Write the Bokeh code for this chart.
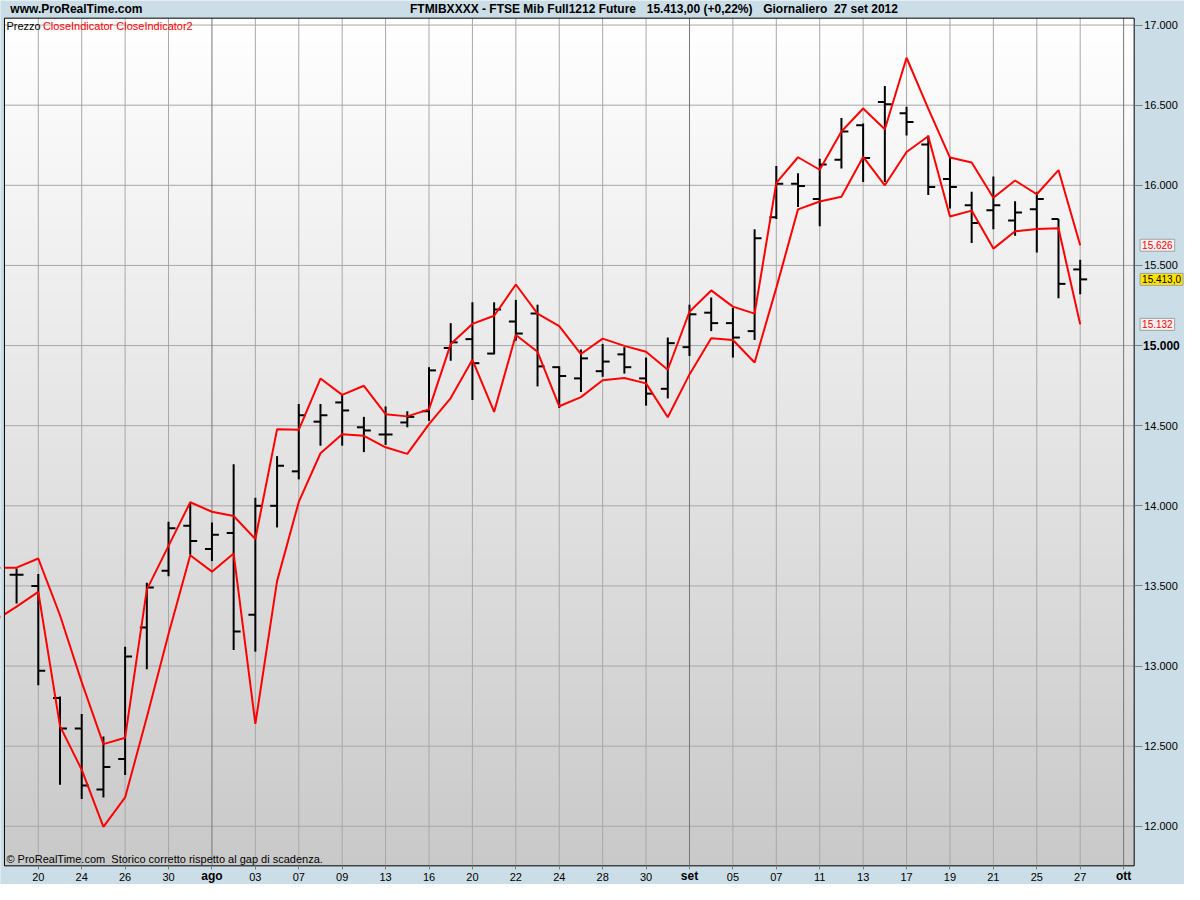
import numpy as np
from bokeh.plotting import figure
from bokeh.models import Range1d, FixedTicker, Label, LinearAxis, ColumnDataSource
from bokeh.embed import file_html
from bokeh.resources import INLINE

# ---------------- data ----------------
dates = ["19/07", "20/07", "23/07", "24/07", "25/07", "26/07", "27/07", "30/07", "31/07",
         "01/08", "02/08", "03/08", "06/08", "07/08", "08/08", "09/08", "10/08", "13/08",
         "14/08", "16/08", "17/08", "20/08", "21/08", "22/08", "23/08", "24/08", "27/08",
         "28/08", "29/08", "30/08", "31/08", "03/09", "04/09", "05/09", "06/09", "07/09",
         "10/09", "11/09", "12/09", "13/09", "14/09", "17/09", "18/09", "19/09", "20/09",
         "21/09", "24/09", "25/09", "26/09", "27/09"]

opens = [13.57, 13.50, 12.80, 12.61, 12.23, 12.42, 13.24, 13.595, 13.875,
         13.73, 13.83, 13.32, 14.00, 14.215, 14.525, 14.645, 14.49, 14.445,
         14.52, 14.59, 14.985, 15.04, 14.95, 15.15, 15.20, 14.865, 14.795,
         14.84, 14.945, 14.795, 14.73, 14.99, 15.205, 15.14, 15.09, 15.80,
         16.01, 15.915, 16.16, 16.375, 16.52, 16.45, 16.255, 16.04, 15.875,
         15.845, 15.78, 15.85, 15.79, 15.475]
highs = [13.61, 13.575, 12.81, 12.70, 12.56, 13.12, 13.52, 13.90, 14.02,
         13.895, 14.26, 14.05, 14.31, 14.635, 14.635, 14.69, 14.555, 14.62,
         14.59, 14.865, 15.14, 15.27, 15.27, 15.285, 15.255, 14.87, 14.975,
         15.01, 14.99, 14.925, 15.05, 15.255, 15.30, 15.235, 15.725, 16.12,
         16.075, 16.165, 16.42, 16.385, 16.62, 16.49, 16.31, 16.175, 15.96,
         16.055, 15.90, 15.96, 15.79, 15.535]
lows = [13.39, 12.88, 12.26, 12.17, 12.18, 12.32, 12.98, 13.56, 13.695,
        13.656, 13.10, 13.09, 13.865, 14.165, 14.375, 14.375, 14.335, 14.38,
        14.49, 14.53, 14.905, 14.66, 14.945, 15.03, 14.745, 14.61, 14.71,
        14.805, 14.825, 14.625, 14.67, 14.935, 15.09, 14.925, 15.035, 15.79,
        15.865, 15.745, 16.105, 16.02, 16.02, 16.31, 15.94, 15.855, 15.64,
        15.725, 15.685, 15.58, 15.295, 15.32]
closes = [13.57, 12.97, 12.61, 12.255, 12.37, 13.06, 13.49, 13.86, 13.78,
          13.82, 13.215, 14.00, 14.25, 14.565, 14.565, 14.595, 14.47, 14.445,
          14.555, 14.845, 15.02, 14.89, 15.225, 15.075, 14.87, 14.81, 14.92,
          14.90, 14.865, 14.70, 15.015, 15.195, 15.14, 15.05, 15.67, 16.01,
          15.995, 16.13, 16.335, 16.17, 16.505, 16.395, 15.99, 15.99, 15.765,
          15.875, 15.83, 15.915, 15.385, 15.413]

# indicator series start one session earlier (18/07)
ind_dates = ["18/07"] + dates
close_indicator = [13.614, 13.614, 13.671, 13.317, 12.90, 12.513, 12.553, 13.477, 13.75, 14.022,
                   13.963, 13.936, 13.793, 14.477, 14.474, 14.794, 14.692, 14.749, 14.572,
                   14.558, 14.602, 15.009, 15.135, 15.186, 15.381, 15.199, 15.121, 14.947,
                   15.043, 14.998, 14.961, 14.849, 15.211, 15.344, 15.243, 15.199, 16.015,
                   16.175, 16.097, 16.336, 16.479, 16.35, 16.796, 16.479, 16.173, 16.142,
                   15.922, 16.03, 15.944, 16.095, 15.626]
close_indicator2 = [13.284, 13.371, 13.463, 12.625, 12.353, 11.996, 12.18, 12.68, 13.20, 13.691,
                    13.589, 13.702, 12.639, 13.53, 14.024, 14.328, 14.447, 14.437, 14.365,
                    14.324, 14.51, 14.672, 14.911, 14.586, 15.066, 14.961, 14.621, 14.678,
                    14.784, 14.798, 14.764, 14.553, 14.82, 15.045, 15.035, 14.894, 15.36,
                    15.85, 15.899, 15.928, 16.177, 16.0, 16.208, 16.306, 15.805, 15.842,
                    15.605, 15.713, 15.727, 15.732, 15.132]

x_tick_labels = ["20", "24", "26", "30", "ago", "03", "07", "09", "13", "16", "20", "22", "24",
                 "28", "30", "set", "05", "07", "11", "13", "17", "19", "21", "25", "27", "ott"]
month_labels = ["ago", "set", "ott"]
y_ticks = [12.0, 12.5, 13.0, 13.5, 14.0, 14.5, 15.0, 15.5, 16.0, 16.5, 17.0]
y_tick_labels = ["12.000", "12.500", "13.000", "13.500", "14.000", "14.500", "15.000",
                 "15.500", "16.000", "16.500", "17.000"]
bold_y_label = "15.000"

last_values = [("15.626", 15.626, "#FF0000", "#F2F2F2"),
               ("15.413,0", 15.413, "#000000", "#FFE400"),
               ("15.132", 15.132, "#FF0000", "#F2F2F2")]

NB = "\u00a0"
header = [("www.ProRealTime.com", 10),
          ("FTMIBXXXX - FTSE Mib Full1212 Future", 415),
          ("15.413,00 (+0,22%)", 655),
          ("Giornaliero" + NB + " 27 set 2012", 773)]
footer = "\u00a9 ProRealTime.com" + NB + " Storico corretto rispetto al gap di scadenza."

# ---------------- layout ----------------
W, H = 1184, 884
SX, SY = W / 1200.0, H / 900.0
FONT = "Liberation Sans"

# whole canvas in data units (session index / price)
XA0, XA1 = -1.741, 52.805
YA0, YA1 = 11.6368, 17.1532
# price panel
XL, XR = -1.559, 50.486
YB, YT = 11.7533, 17.0429


def rx(px):
    return px * SX


def ry(py):
    return H - py * SY


bar_x = list(range(-1, -1 + len(dates)))
ind_x = list(range(-2, -2 + len(ind_dates)))
tick_x = [2 * i for i in range(len(x_tick_labels))]

p = figure(width=W, height=H,
           x_range=Range1d(XA0, XA1), y_range=Range1d(YA0, YA1),
           output_backend="svg", toolbar_location=None,
           x_axis_location=None, y_axis_location=None,
           min_border=0, min_border_left=0, min_border_right=0,
           min_border_top=0, min_border_bottom=0)
p.grid.visible = False
p.outline_line_color = None
p.border_fill_color = "#CBDDE6"
p.background_fill_color = "#CBDDE6"

# vertical gradient (white -> light grey) inside the price panel
N = 256
grad = np.zeros((N, 2), dtype=np.uint32)
view = grad.view(dtype=np.uint8).reshape((N, 2, 4))
for i in range(N):
    g = int(round(201 + 54 * i / (N - 1)))
    view[i, :, 0] = g
    view[i, :, 1] = g
    view[i, :, 2] = g
    view[i, :, 3] = 255
p.image_rgba(image=[grad], x=XL, y=YB, dw=XR - XL, dh=YT - YB)

# grid lines
reg = [xx for xx, lab in zip(tick_x, x_tick_labels) if lab not in month_labels]
mon = [xx for xx, lab in zip(tick_x, x_tick_labels) if lab in month_labels]
p.segment(x0=reg, y0=[YB] * len(reg), x1=reg, y1=[YT] * len(reg),
          line_color="#A8A8A8", line_width=1)
p.segment(x0=[XL] * len(y_ticks), y0=y_ticks, x1=[XR] * len(y_ticks), y1=y_ticks,
          line_color="#A8A8A8", line_width=1)
p.segment(x0=mon, y0=[YB] * len(mon), x1=mon, y1=[YT] * len(mon),
          line_color="#777777", line_width=1)

# ---------------- price bars ----------------
tick_w = 0.32
src = ColumnDataSource(dict(
    x=bar_x, o=opens, h=highs, l=lows, c=closes,
    xl=[x - tick_w for x in bar_x], xr=[x + tick_w for x in bar_x]))
p.segment(x0="x", y0="l", x1="x", y1="h", source=src, line_color="black", line_width=2)
p.segment(x0="xl", y0="o", x1="x", y1="o", source=src, line_color="black", line_width=2)
p.segment(x0="x", y0="c", x1="xr", y1="c", source=src, line_color="black", line_width=2)

# ---------------- indicators ----------------
p.line(ind_x, close_indicator, line_color="#FF0000", line_width=2)
p.line(ind_x, close_indicator2, line_color="#FF0000", line_width=2)

# left margin cover + panel border
p.quad(left=XA0, right=XL, bottom=YA0, top=YA1, fill_color="#CBDDE6", line_color=None)
p.quad(left=XL, right=XR, bottom=YB, top=YT, fill_color=None, line_color="black", line_width=1)

# ---------------- axes ----------------
xa = LinearAxis(ticker=FixedTicker(ticks=tick_x), fixed_location=YB)
xa.major_label_overrides = {xx: ("" if lab in month_labels else lab)
                            for xx, lab in zip(tick_x, x_tick_labels)}
xa.major_tick_in = 0
xa.major_tick_out = 4
xa.major_tick_line_color = "#808080"
xa.minor_tick_line_color = None
xa.axis_line_color = None
xa.major_label_text_font = FONT
xa.major_label_text_font_size = "11px"
xa.major_label_text_color = "#000000"
xa.major_label_standoff = 3
p.add_layout(xa, "below")

ya = LinearAxis(ticker=FixedTicker(ticks=y_ticks), fixed_location=XR)
ya.major_label_overrides = {v: ("" if lab == bold_y_label else lab)
                            for v, lab in zip(y_ticks, y_tick_labels)}
ya.major_tick_in = 0
ya.major_tick_out = 8
ya.major_tick_line_color = "#808080"
ya.minor_tick_line_color = None
ya.axis_line_color = None
ya.major_label_text_font = FONT
ya.major_label_text_font_size = "11px"
ya.major_label_text_color = "#000000"
ya.major_label_standoff = 2
p.add_layout(ya, "right")

# bold tick labels
for lab, xx in zip(x_tick_labels, tick_x):
    if lab in month_labels:
        p.add_layout(Label(x=xx, y=ry(891), y_units="screen", text=lab, text_align="center",
                           text_baseline="middle", text_font=FONT, text_font_size="12px",
                           text_font_style="bold", text_color="#000000"))
for v, lab in zip(y_ticks, y_tick_labels):
    if lab == bold_y_label:
        p.add_layout(Label(x=rx(1158), x_units="screen", y=v, text=lab, text_align="left",
                           text_baseline="middle", text_font=FONT, text_font_size="12px",
                           text_font_style="bold", text_color="#000000"))


# ---------------- texts ----------------
def lab(px, py, text, color="#000000", size="11px", style="normal", **kw):
    p.add_layout(Label(x=rx(px), y=ry(py), x_units="screen", y_units="screen", text=text,
                       text_font=FONT, text_font_size=size, text_font_style=style,
                       text_color=color, text_baseline="middle", **kw))


for text, px in header:
    lab(px, 9, text, size="12px", style="bold")

lab(6, 26, "Prezzo")
lab(43, 26, "CloseIndicator CloseIndicator2", color="#FF0000")
lab(6, 874, footer)

for text, v, col, bg in last_values:
    p.add_layout(Label(x=rx(1155), x_units="screen", y=v, text=text, text_font=FONT,
                       text_font_size="10px", text_color=col, text_baseline="middle",
                       background_fill_color=bg, border_line_color="#A0A0A0",
                       padding=2))

open("out.html", "w").write(file_html(p, INLINE))
